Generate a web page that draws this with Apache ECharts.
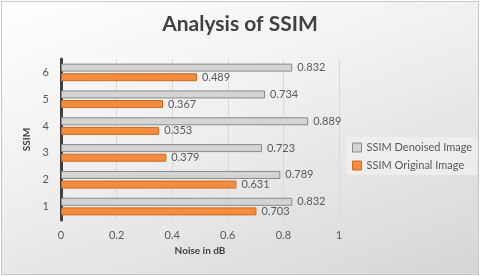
<!DOCTYPE html>
<html><head><meta charset="utf-8">
<script src="https://cdn.jsdelivr.net/npm/echarts@6/dist/echarts.min.js"></script>
<style>
html,body{margin:0;padding:0;background:#fff;}
#c{position:absolute;left:1px;top:1px;width:476px;height:272px;border:1px solid #c8c8c8;
background:linear-gradient(160deg,#ffffff 0%,#efefef 45%,#d6d6d6 100%);}
</style></head>
<body><div id="c"></div>
<script>
var categories = ['1','2','3','4','5','6'];
var denoised = [0.832, 0.789, 0.723, 0.889, 0.734, 0.832];
var original = [0.703, 0.631, 0.379, 0.353, 0.367, 0.489];
var xTicks = [0, 0.2, 0.4, 0.6, 0.8, 1];

var chart = echarts.init(document.getElementById('c'));
var font = 'Lato, "Open Sans", sans-serif';
chart.setOption({
  animation:false,
  textStyle:{fontFamily:font},
  title:{text:'Analysis of SSIM',left:'center',top:7,
    textStyle:{fontFamily:font,fontSize:21,fontWeight:'bold',color:'#404040'}},
  legend:{data:['SSIM Denoised Image','SSIM Original Image'],orient:'vertical',
    left:344,top:135,itemWidth:9,itemHeight:9,itemGap:7,itemStyle:{borderWidth:1},
    padding:[5,5,4,6],
    backgroundColor:'rgba(240,240,240,0.8)',
    textStyle:{fontFamily:font,fontSize:11,color:'#595959'},icon:'rect'},
  grid:{left:59,right:139,top:57,bottom:54},
  xAxis:{type:'value',min:0,max:1,interval:0.2,
    name:'Noise in dB',nameLocation:'middle',nameGap:20,
    nameTextStyle:{fontFamily:font,fontSize:10,fontWeight:'bold',color:'#404040'},
    axisLabel:{fontFamily:font,fontSize:11,color:'#595959',margin:10,
      formatter:function(v){return String(+v.toFixed(1));}},
    axisLine:{show:false},axisTick:{show:false},
    splitLine:{lineStyle:{color:'#d9d9d9'}}},
  yAxis:{type:'category',data:categories,
    name:'SSIM',nameLocation:'middle',nameGap:25,nameRotate:90,
    nameTextStyle:{fontFamily:font,fontSize:10,fontWeight:'bold',color:'#404040'},
    axisLabel:{fontFamily:font,fontSize:11,color:'#595959',margin:12},
    axisLine:{lineStyle:{color:'#404040',width:3}},axisTick:{show:false}},
  series:[
    {name:'SSIM Denoised Image',type:'bar',data:denoised,barWidth:8,barGap:'20%',
      itemStyle:{color:'#d4d4d4',borderColor:'#8a8a8a',borderWidth:1},
      label:{show:true,position:'right',distance:5,fontFamily:font,fontSize:11,color:'#595959'}},
    {name:'SSIM Original Image',type:'bar',data:original,barWidth:8,
      itemStyle:{color:'#f28c3f',borderColor:'#d4661c',borderWidth:1},
      label:{show:true,position:'right',distance:5,fontFamily:font,fontSize:11,color:'#595959'}}
  ]
});
</script></body></html>
